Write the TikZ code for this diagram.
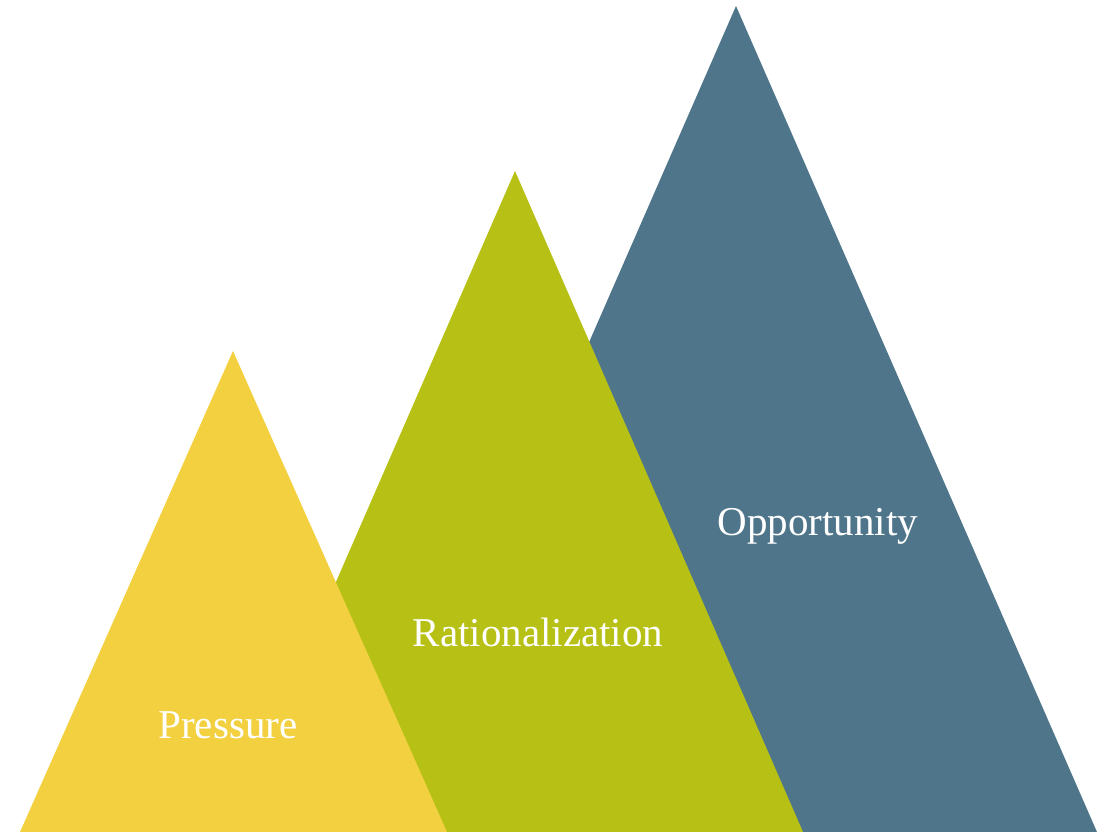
\documentclass[tikz,border=0pt]{standalone}
\usepackage{fontspec}
\setmainfont{Liberation Serif}
\definecolor{peakyellow}{HTML}{F2D03F}
\definecolor{peakgreen}{HTML}{B7C115}
\definecolor{peakblue}{HTML}{4F758B}
\tikzset{
  peaklabel/.style={text=white, font=\fontsize{41}{46}\selectfont, inner sep=0pt, anchor=base},
}
\begin{document}
\begin{tikzpicture}[x=1pt,y=-1pt]
  \useasboundingbox (0,0) rectangle (1108,832);
  % back peak
  \fill[peakblue] (375,832) -- (736,6) -- (1097,832) -- cycle;
  % middle peak
  \fill[peakgreen] (227,832) -- (515,171) -- (803,832) -- cycle;
  % front peak
  \fill[peakyellow] (20,832) -- (233,351) -- (447,832) -- cycle;
  \node[peaklabel] (opp) at (818,535) {Opportunity};
  \node[peaklabel] (rat) at (538,646) {Rationalization};
  \node[peaklabel] (pre) at (228,738) {Pressure};
\end{tikzpicture}
\end{document}
